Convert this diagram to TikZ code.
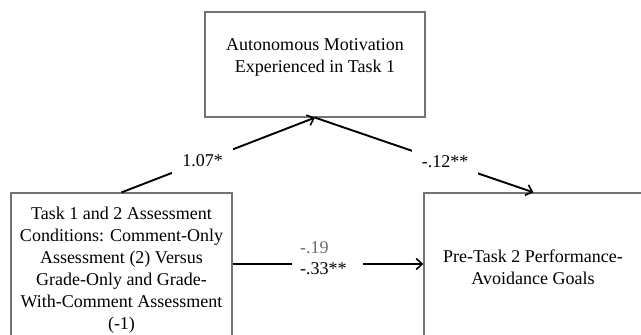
\documentclass[tikz,border=0pt]{standalone}
\usepackage{fontspec}
\setmainfont{Liberation Serif}
\usetikzlibrary{arrows.meta}
\definecolor{boxline}{gray}{0.45}
\definecolor{lblgray}{gray}{0.42}
\begin{document}
\begin{tikzpicture}[x=1pt,y=-1pt,
  every node/.style={font=\fontsize{18}{22}\selectfont},
  boxnode/.style={draw=boxline, line width=1.2pt, inner sep=0pt, fill=white},
  txt/.style={align=center, inner sep=0pt, text=black},
  conn/.style={line width=1.9pt, -{Straight Barb[length=6pt,width=11pt,line width=1.6pt]}},
  gapnode/.style={fill=white, inner sep=0pt, minimum height=30pt},
  lbl/.style={inner sep=0pt, text=black}]
\path[use as bounding box, clip] (0,0) rectangle (641,335);
\fill[white] (0,0) rectangle (641,335);
% boxes
\node[boxnode, minimum width=220pt, minimum height=105pt] (mot) at (315,64.5) {};
\node[boxnode, minimum width=221pt, minimum height=150pt] (task) at (121.5,268) {};
\node[boxnode, minimum width=219pt, minimum height=148pt] (avoid) at (533.5,267) {};
% box texts
\node[txt] (motT) at (315,57.3) {Autonomous Motivation\\Experienced in Task 1};
\node[txt] (taskT) at (121.5,269.8) {Task 1 and 2 Assessment\\Conditions: Comment-Only\\Assessment (2) Versus\\Grade-Only and Grade-\\With-Comment Assessment\\(-1)};
\node[txt] (avoidT) at (533,266.8) {Pre-Task 2 Performance-\\Avoidance Goals};
% connectors
\draw[conn] (task.north) -- node[pos=0.419, gapnode, minimum width=61pt] (l1) {1.07*} (mot.south);
\draw[conn] (mot.south) -- node[pos=0.595, gapnode, minimum width=66pt] (l2) {-.12**} (avoid.north);
\coordinate (hy) at (0,264);
\draw[conn] (task.east |- hy) -- node[pos=0.497, fill=white, inner sep=0pt, minimum width=71pt, minimum height=8pt] (g3) {} (avoid.west |- hy);
% horizontal labels
\node[lbl, text=lblgray, anchor=base west] (l3a) at (300,253) {-.19};
\node[lbl, anchor=base west] (l3b) at (300,274) {-.33**};
\end{tikzpicture}
\end{document}
